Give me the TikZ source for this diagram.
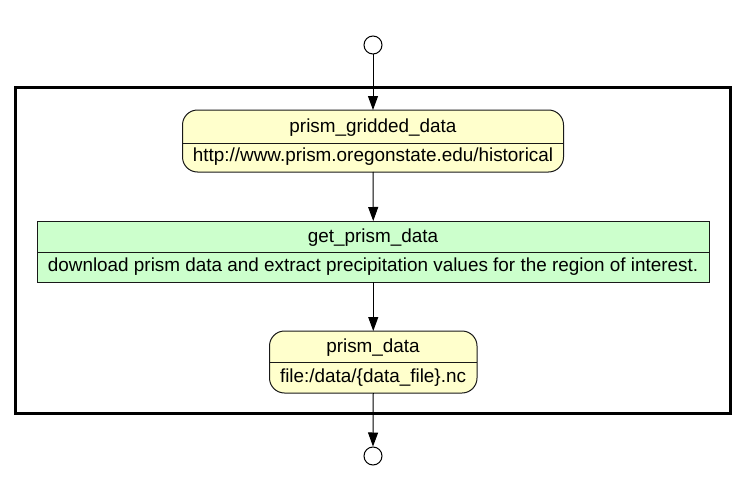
\documentclass[tikz,border=0pt]{standalone}
\usepackage{fontspec}
\setmainfont{Liberation Sans}
\usetikzlibrary{arrows.meta}
\definecolor{stateyellow}{HTML}{FFFFCC}
\definecolor{actgreen}{HTML}{CCFFCC}
\begin{document}
\begin{tikzpicture}[x=1pt,y=-1pt,
  box/.style={draw=black!90, line width=1pt, inner sep=0pt, outer sep=0pt},
  statebox/.style={box, fill=stateyellow, rounded corners=15pt},
  actbox/.style={box, fill=actgreen},
  divider/.style={draw=black!90, line width=1pt},
  lbl/.style={font=\fontsize{18.9}{22}\selectfont, anchor=base, inner sep=0pt},
  flow/.style={draw=black, line width=1pt, -{Triangle[length=14pt,width=10pt]}},
  term/.style={circle, draw=black, line width=1pt, fill=white, minimum size=18pt, inner sep=0pt},
  frame/.style={draw=black, line width=2.5pt}]
\useasboundingbox[fill=white] (0,0) rectangle (747,503);
% outer frame
\draw[frame] (15.5,87.5) rectangle (730.5,413.5);
% terminals
\node[term] (t1) at (373,45) {};
\node[term] (t2) at (373,456) {};
% boxes
\node[statebox, minimum width=381pt, minimum height=62pt] (n1) at (373,141) {};
\node[actbox, minimum width=671.5pt, minimum height=61pt] (n2) at (373.25,251.5) {};
\node[statebox, minimum width=207.5pt, minimum height=62pt] (n3) at (373.25,362) {};
% dividers
\draw[divider] (n1.north west) ++(0,33) -- ++(381,0);
\draw[divider] (n2.north west) ++(0,31) -- ++(671.5,0);
\draw[divider] (n3.north west) ++(0,31) -- ++(207.5,0);
% labels
\node[lbl] (l1a) at (373,132) {prism\_gridded\_data};
\node[lbl] (l1b) at (373,161) {http://www.prism.oregonstate.edu/historical};
\node[lbl] (l2a) at (373,242) {get\_prism\_data};
\node[lbl] (l2b) at (373,271) {download prism data and extract precipitation values for the region of interest.};
\node[lbl] (l3a) at (373,352) {prism\_data};
\node[lbl] (l3b) at (373,382) {file:/data/\{data\_file\}.nc};
% flows
\draw[flow] (t1.south) -- (n1.north);
\draw[flow] (n1.south) -- (n2.north);
\draw[flow] (n2.south) -- (n3.north);
\draw[flow] (n3.south) -- (t2.north);
\end{tikzpicture}
\end{document}
